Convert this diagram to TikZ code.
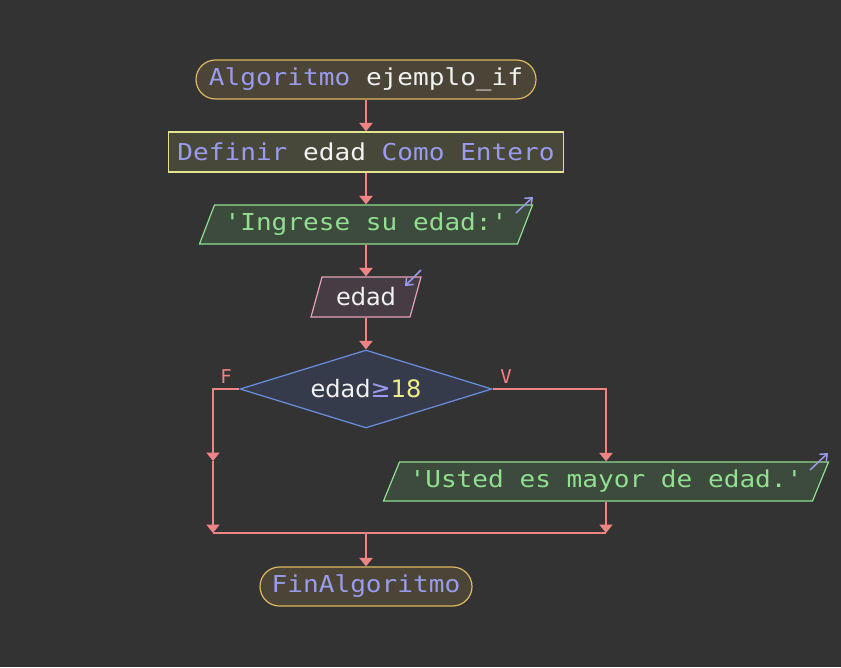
\documentclass[tikz,border=0pt]{standalone}
\usepackage{fontspec}
\usetikzlibrary{shapes.geometric,arrows.meta}
\newfontfamily\monof[FakeStretch=1.12]{DejaVu Sans Mono}
\newfontfamily\monoplain{DejaVu Sans Mono}
\newfontfamily\propf{DejaVu Sans}
\definecolor{bgc}{HTML}{333333}
\definecolor{termfill}{HTML}{4B4537}
\definecolor{termdraw}{HTML}{DDB862}
\definecolor{boxfill}{HTML}{48483A}
\definecolor{boxdraw}{HTML}{E4E48A}
\definecolor{outfill}{HTML}{3C4B3C}
\definecolor{outdraw}{HTML}{92DE92}
\definecolor{infill}{HTML}{463C43}
\definecolor{indraw}{HTML}{E6A2B6}
\definecolor{diafill}{HTML}{363B4B}
\definecolor{diadraw}{HTML}{6A8EE0}
\definecolor{arrc}{HTML}{F08484}
\definecolor{pcol}{HTML}{9A9AEE}
\definecolor{ycol}{HTML}{EEEE88}
\definecolor{wcol}{HTML}{F2F2F2}
\tikzset{
  x=1pt, y=-1pt,
  base/.style={inner sep=0pt, line width=1.2pt, font=\monof\fontsize{23.3}{28}\selectfont},
  term/.style={base, rectangle, rounded corners=19.5pt, fill=termfill, draw=termdraw, minimum height=39pt},
  defbox/.style={base, rectangle, fill=boxfill, draw=boxdraw, minimum height=40pt},
  outshape/.style={fill=outfill, draw=outdraw, line width=1.2pt},
  inshape/.style={fill=infill, draw=indraw, line width=1.2pt},
  outp/.style={base, rectangle, text=outdraw, minimum height=39pt},
  inp/.style={base, rectangle, minimum height=40pt, font=\propf\fontsize{24}{28}\selectfont, text=wcol},
  cond/.style={base, diamond, aspect=3.23, fill=diafill, draw=diadraw, font=\propf\fontsize{24}{28}\selectfont, text=wcol},
  flow/.style={draw=arrc, line width=2.2pt, -{Triangle[width=13pt,length=8.5pt]}},
  flowline/.style={draw=arrc, line width=2.2pt},
  lbl/.style={font=\monoplain\fontsize{19}{22}\selectfont, text=arrc, inner sep=0pt},
  icon/.style={draw=pcol, line width=1.5pt, -{Straight Barb[length=6pt,width=10pt]}}
}
\begin{document}
\begin{tikzpicture}
\fill[bgc] (0,0) rectangle (841,667);
\useasboundingbox (0,0) rectangle (841,667);

% parallelogram outlines
\path[outshape] (199.5,244) -- (214.5,205) -- (532.5,205) -- (517.5,244) -- cycle;
\path[inshape] (311,317) -- (322,277) -- (421,277) -- (410,317) -- cycle;
\path[outshape] (383.5,501) -- (399.5,462) -- (828.5,462) -- (812.5,501) -- cycle;

\node[term, minimum width=340pt] (start) at (366,79.5) {\textcolor{pcol}{Algoritmo} \textcolor{wcol}{ejemplo\_if}};
\node[defbox, minimum width=395pt] (def) at (366,152) {\textcolor{pcol}{Definir} \textcolor{wcol}{edad} \textcolor{pcol}{Como Entero}};
\node[outp, minimum width=303pt] (out1) at (366,224.5) {'Ingrese su edad:'};
\node[inp, minimum width=88pt] (in1) at (366,297) {edad};
\node[cond, minimum width=252pt, minimum height=78pt] (if) at (366,389) {edad\textcolor{pcol}{≥}\textcolor{ycol}{18}};
\node[outp, minimum width=413pt] (out2) at (606,481.5) {'Usted es mayor de edad.'};
\node[term, minimum width=212pt] (fin) at (366,586.5) {\textcolor{pcol}{FinAlgoritmo}};

\coordinate (lt) at (213,389);
\coordinate (rt) at (606,389);
\coordinate (skip) at (213,461);
\coordinate (jl) at (213,533);
\coordinate (jr) at (606,533);
\coordinate (jm) at (366,533);

\draw[flow] (start.south) -- (def.north);
\draw[flow] (def.south) -- (out1.north);
\draw[flow] (out1.south) -- (in1.north);
\draw[flow] (in1.south) -- (if.north);
\draw[flow] (if.west) -- (lt) -- (skip);
\draw[flow] (skip) -- (jl);
\draw[flow] (if.east) -- (rt) -- (out2.north);
\draw[flow] (out2.south) -- (jr);
\draw[flowline] (jl) -- (jr);
\draw[flow] (jm) -- (fin.north);

\node[lbl] (lf) at (226,377) {F};
\node[lbl] (lv) at (506,377) {V};

\draw[icon] (516,213) -- (533,197);
\draw[icon] (421,270) -- (405,286);
\draw[icon] (810,470) -- (828,453);
\end{tikzpicture}
\end{document}
